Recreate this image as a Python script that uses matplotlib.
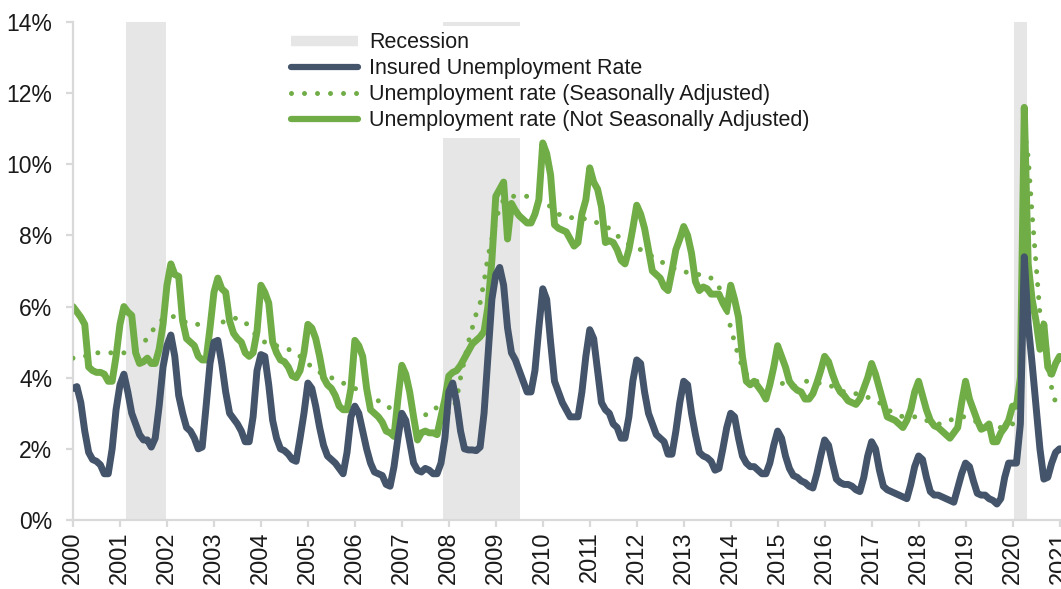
"""Insured unemployment rate vs unemployment rate (SA / NSA), 2000-2021, with recessions shaded."""

import matplotlib

matplotlib.use("Agg")
import matplotlib.pyplot as plt
import numpy as np
from matplotlib.lines import Line2D
from matplotlib.ticker import FuncFormatter

plt.rcParams["font.family"] = ["Liberation Sans", "DejaVu Sans"]

START_YEAR = 2000

# monthly values, Jan 2000 onwards (percent)
insured_rate = [
    3.7, 3.75, 3.3, 2.5, 1.9, 1.7, 1.65, 1.55, 1.3, 1.3, 2.0, 3.1,      # 2000
    3.8, 4.1, 3.6, 3.0, 2.7, 2.4, 2.25, 2.25, 2.05, 2.3, 3.2, 4.3,      # 2001
    4.9, 5.2, 4.6, 3.5, 3.0, 2.6, 2.5, 2.3, 2.0, 2.05, 3.2, 4.4,        # 2002
    5.0, 5.05, 4.4, 3.6, 3.0, 2.85, 2.7, 2.5, 2.2, 2.2, 2.9, 4.2,       # 2003
    4.65, 4.6, 3.8, 2.8, 2.3, 2.0, 1.95, 1.85, 1.7, 1.65, 2.3, 3.0,     # 2004
    3.85, 3.7, 3.2, 2.6, 2.1, 1.8, 1.7, 1.6, 1.45, 1.3, 1.9, 2.9,       # 2005
    3.2, 3.0, 2.5, 2.0, 1.6, 1.35, 1.3, 1.25, 1.0, 0.95, 1.5, 2.3,      # 2006
    3.0, 2.8, 2.2, 1.6, 1.4, 1.35, 1.45, 1.4, 1.3, 1.3, 1.6, 2.3,       # 2007
    3.6, 3.85, 3.3, 2.5, 2.0, 1.97, 1.97, 1.95, 2.05, 3.0, 4.6, 6.2,    # 2008
    6.9, 7.1, 6.6, 5.4, 4.7, 4.5, 4.2, 3.9, 3.6, 3.6, 4.2, 5.4,         # 2009
    6.5, 6.2, 5.0, 3.9, 3.6, 3.3, 3.1, 2.9, 2.9, 2.9, 3.6, 4.6,         # 2010
    5.35, 5.1, 4.2, 3.3, 3.1, 3.0, 2.7, 2.6, 2.3, 2.3, 2.9, 3.9,        # 2011
    4.5, 4.4, 3.6, 3.0, 2.7, 2.4, 2.3, 2.2, 1.85, 1.85, 2.5, 3.3,       # 2012
    3.9, 3.8, 3.0, 2.4, 1.9, 1.8, 1.75, 1.65, 1.4, 1.45, 2.0, 2.6,      # 2013
    3.0, 2.9, 2.3, 1.8, 1.6, 1.5, 1.5, 1.4, 1.3, 1.3, 1.6, 2.1,         # 2014
    2.5, 2.3, 1.8, 1.45, 1.25, 1.2, 1.1, 1.05, 0.95, 0.9, 1.3, 1.8,     # 2015
    2.25, 2.1, 1.6, 1.15, 1.05, 1.0, 1.0, 0.95, 0.85, 0.8, 1.2, 1.8,    # 2016
    2.2, 2.0, 1.4, 0.95, 0.85, 0.8, 0.75, 0.7, 0.65, 0.6, 1.0, 1.5,     # 2017
    1.8, 1.7, 1.2, 0.8, 0.7, 0.7, 0.65, 0.6, 0.55, 0.5, 0.9, 1.3,       # 2018
    1.6, 1.5, 1.1, 0.75, 0.7, 0.7, 0.6, 0.55, 0.45, 0.6, 1.2, 1.6,      # 2019
    1.6, 1.6, 2.7, 7.4, 5.5, 4.4, 3.2, 2.0, 1.15, 1.2, 1.6, 1.9,        # 2020
    2.0, 2.0, 1.9,                                                      # 2021
]

ur_sa = [
    4.55, 4.55, 4.6, 4.6, 4.65, 4.65, 4.7, 4.7, 4.7, 4.7, 4.7, 4.7,     # 2000
    4.7, 4.7, 4.7, 4.75, 4.8, 4.9, 5.0, 5.1, 5.3, 5.4, 5.55, 5.65,      # 2001
    5.7, 5.75, 5.7, 5.65, 5.6, 5.55, 5.5, 5.5, 5.5, 5.5, 5.5, 5.5,      # 2002
    5.5, 5.5, 5.55, 5.6, 5.65, 5.67, 5.67, 5.65, 5.55, 5.45, 5.3, 5.15, # 2003
    5.05, 5.0, 4.95, 4.9, 4.9, 4.85, 4.83, 4.8, 4.75, 4.7, 4.6, 4.5,    # 2004
    4.4, 4.3, 4.2, 4.15, 4.1, 4.03, 4.0, 3.95, 3.9, 3.85, 3.8, 3.75,    # 2005
    3.7, 3.65, 3.6, 3.55, 3.5, 3.45, 3.35, 3.3, 3.2, 3.15, 3.1, 3.05,   # 2006
    3.0, 3.0, 2.95, 2.95, 2.9, 2.9, 2.95, 3.05, 3.15, 3.15, 3.1, 3.05,  # 2007
    3.0, 3.1, 3.4, 4.0, 4.5, 5.0, 5.4, 5.8, 6.1, 6.7, 7.4, 7.9,         # 2008
    8.4, 8.8, 9.0, 9.1, 9.1, 9.1, 9.1, 9.1, 9.1, 9.1, 9.1, 9.05,        # 2009
    9.0, 8.9, 8.8, 8.7, 8.6, 8.55, 8.5, 8.5, 8.5, 8.5, 8.5, 8.45,       # 2010
    8.4, 8.4, 8.35, 8.3, 8.25, 8.2, 8.1, 8.0, 7.9, 7.8, 7.75, 7.7,      # 2011
    7.65, 7.6, 7.55, 7.5, 7.4, 7.35, 7.3, 7.2, 7.15, 7.1, 7.05, 7.0,    # 2012
    7.0, 6.95, 6.95, 6.9, 6.9, 6.9, 6.85, 6.8, 6.7, 6.55, 6.3, 5.9,     # 2013
    5.4, 5.0, 4.6, 4.3, 4.1, 4.0, 3.9, 3.9, 3.9, 3.9, 3.9, 3.9,         # 2014
    3.9, 3.85, 3.8, 3.75, 3.75, 3.8, 3.85, 3.9, 3.9, 3.85, 3.85, 3.85,  # 2015
    3.85, 3.8, 3.75, 3.7, 3.65, 3.6, 3.6, 3.6, 3.55, 3.5, 3.5, 3.45,    # 2016
    3.4, 3.35, 3.3, 3.2, 3.1, 3.05, 3.0, 2.95, 2.9, 2.9, 2.9, 2.9,      # 2017
    2.9, 2.85, 2.8, 2.75, 2.7, 2.7, 2.7, 2.75, 2.8, 2.85, 2.9, 2.9,     # 2018
    2.9, 2.85, 2.8, 2.75, 2.7, 2.7, 2.65, 2.6, 2.6, 2.6, 2.65, 2.7,     # 2019
    2.7, 2.8, 2.9, 11.0, 10.2, 8.6, 7.2, 5.8, 5.5, 4.6, 3.7, 3.3,       # 2020
    3.3, 3.3, 3.3,                                                      # 2021
]

ur_nsa = [
    6.0, 5.85, 5.7, 5.5, 4.3, 4.2, 4.15, 4.15, 4.1, 3.9, 3.9, 4.6,      # 2000
    5.5, 6.0, 5.85, 5.75, 4.7, 4.4, 4.45, 4.55, 4.4, 4.4, 4.8, 5.5,     # 2001
    6.6, 7.2, 6.9, 6.85, 5.6, 5.1, 5.0, 4.9, 4.6, 4.5, 4.5, 5.4,        # 2002
    6.4, 6.8, 6.5, 6.4, 5.6, 5.25, 5.1, 5.0, 4.7, 4.6, 4.7, 5.3,        # 2003
    6.6, 6.4, 6.1, 5.0, 4.7, 4.5, 4.45, 4.3, 4.05, 4.0, 4.2, 4.7,       # 2004
    5.5, 5.4, 5.1, 4.6, 4.0, 3.8, 3.7, 3.5, 3.2, 3.1, 3.1, 3.7,         # 2005
    5.05, 4.9, 4.6, 3.7, 3.1, 3.0, 2.9, 2.75, 2.5, 2.45, 2.35, 3.4,     # 2006
    4.35, 4.1, 3.6, 2.9, 2.25, 2.45, 2.5, 2.45, 2.45, 2.4, 2.9, 3.4,    # 2007
    4.05, 4.15, 4.2, 4.35, 4.55, 4.75, 4.95, 5.05, 5.15, 5.3, 6.0, 7.3, # 2008
    9.1, 9.3, 9.5, 7.9, 8.9, 8.7, 8.55, 8.45, 8.35, 8.35, 8.6, 9.0,     # 2009
    10.6, 10.3, 9.7, 8.3, 8.2, 8.15, 8.1, 7.9, 7.7, 7.8, 8.6, 9.0,      # 2010
    9.9, 9.5, 9.3, 8.8, 7.8, 7.85, 7.8, 7.6, 7.3, 7.2, 7.6, 8.2,        # 2011
    8.85, 8.6, 8.2, 7.6, 7.0, 6.9, 6.8, 6.55, 6.45, 7.0, 7.6, 7.9,      # 2012
    8.25, 8.0, 7.5, 6.7, 6.45, 6.55, 6.5, 6.35, 6.35, 6.35, 6.1, 5.9,   # 2013
    6.6, 6.2, 5.7, 4.6, 3.9, 3.8, 3.9, 3.75, 3.6, 3.4, 3.8, 4.3,        # 2014
    4.9, 4.6, 4.3, 3.9, 3.75, 3.65, 3.6, 3.4, 3.4, 3.55, 3.85, 4.2,     # 2015
    4.6, 4.45, 4.1, 3.8, 3.6, 3.5, 3.35, 3.3, 3.25, 3.4, 3.7, 4.0,      # 2016
    4.4, 4.1, 3.7, 3.3, 2.9, 2.85, 2.8, 2.7, 2.6, 2.8, 3.1, 3.6,        # 2017
    3.9, 3.5, 3.1, 2.8, 2.65, 2.6, 2.5, 2.4, 2.3, 2.45, 2.6, 3.3,       # 2018
    3.9, 3.4, 3.1, 2.8, 2.55, 2.6, 2.7, 2.2, 2.2, 2.45, 2.6, 2.8,       # 2019
    3.2, 3.2, 4.0, 11.6, 7.2, 6.2, 5.6, 4.8, 5.5, 4.3, 4.1, 4.4,        # 2020
    4.6, 4.5, 4.5,                                                      # 2021
]

recessions = [(2001.13, 2001.98), (2007.87, 2009.51), (2020.04, 2020.30)]
year_ticks = list(range(2000, 2022))
pct_ticks = list(range(0, 16, 2))

SLATE = "#44546A"
GREEN = "#70AD47"
SHADE = "#E6E6E6"
AXIS = "#D9D9D9"
TEXT = "#1a1a1a"


def month_axis(values):
    return START_YEAR + np.arange(len(values)) / 12.0


fig = plt.figure(figsize=(10.61, 5.89), dpi=100)
fig.patch.set_facecolor("white")
# axes run past the right edge, the reference is cropped there
ax = fig.add_axes([73 / 1061, 69 / 589, 1010 / 1061, 498 / 589])

for a, b in recessions:
    ax.axvspan(a, b, color=SHADE, lw=0, zorder=0)

ax.plot(month_axis(ur_nsa), ur_nsa, color=GREEN, lw=5, solid_capstyle="round",
        solid_joinstyle="round", zorder=2)
ax.plot(month_axis(ur_sa), ur_sa, color=GREEN, lw=3.6, linestyle=(0, (0.001, 2.6)),
        dash_capstyle="round", zorder=3)
ax.plot(month_axis(insured_rate), insured_rate, color=SLATE, lw=5, solid_capstyle="round",
        solid_joinstyle="round", zorder=4)

ax.set_xlim(2000, 2021.5)
ax.set_ylim(0, 14)
ax.set_xticks(year_ticks)
ax.set_xticklabels([str(y) for y in year_ticks], rotation=90, fontsize=17, color=TEXT)
ax.set_yticks(pct_ticks)
ax.yaxis.set_major_formatter(FuncFormatter(lambda v, _: f"{v:.0f}%"))
for lab in ax.get_yticklabels():
    lab.set_fontsize(16.5)
    lab.set_color(TEXT)

for side in ("top", "right"):
    ax.spines[side].set_visible(False)
for side in ("left", "bottom"):
    ax.spines[side].set_color(AXIS)
    ax.spines[side].set_linewidth(1.6)
ax.tick_params(axis="both", color=AXIS, width=1.6, length=5, direction="out")
ax.tick_params(axis="y", pad=10)
ax.tick_params(axis="x", pad=3)

handles = [
    Line2D([], [], color=SHADE, lw=7.5, solid_capstyle="butt"),
    Line2D([], [], color=SLATE, lw=4.5, solid_capstyle="round"),
    Line2D([], [], color=GREEN, lw=3.6, linestyle=(0, (0.001, 2.6)), dash_capstyle="round"),
    Line2D([], [], color=GREEN, lw=4.5, solid_capstyle="round"),
]
labels = [
    "Recession",
    "Insured Unemployment Rate",
    "Unemployment rate (Seasonally Adjusted)",
    "Unemployment rate (Not Seasonally Adjusted)",
]
leg = ax.legend(handles, labels, loc="upper left", bbox_to_anchor=(285 / 1061, 1 - 26 / 589),
                bbox_transform=fig.transFigure, fontsize=15.5, frameon=True, framealpha=1,
                edgecolor="none", facecolor="white", fancybox=False, borderpad=0.3,
                borderaxespad=0, handlelength=3.1, handletextpad=0.5, labelspacing=0.23)
for t in leg.get_texts():
    t.set_color(TEXT)

fig.savefig("out.png", dpi=100, facecolor="white")
